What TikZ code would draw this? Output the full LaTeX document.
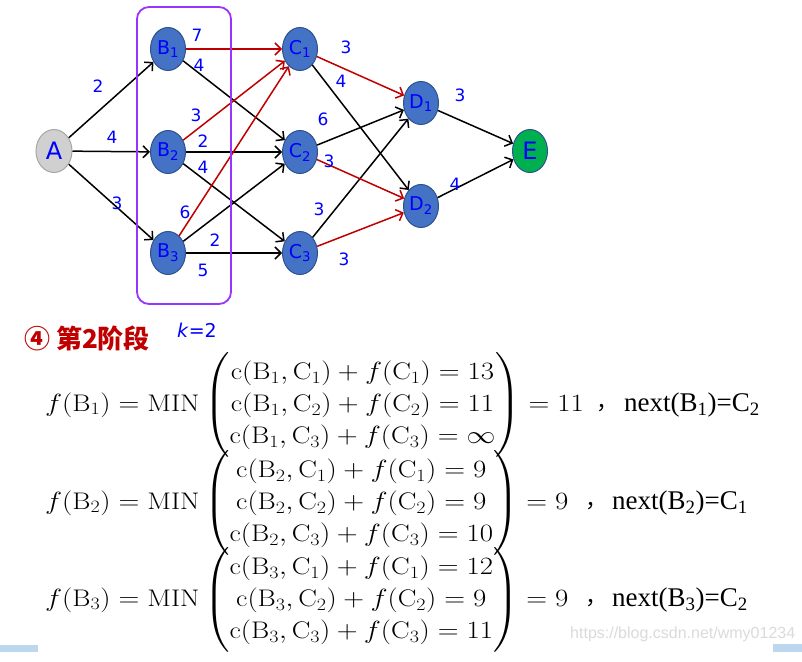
\documentclass[tikz,border=0pt]{standalone}
\usepackage{amsmath}
\usepackage{graphicx}
\usepackage{fontspec}
\usetikzlibrary{shapes.geometric,arrows.meta}
\newfontfamily\dv{DejaVu Sans}
\newfontfamily\cjk{Noto Sans CJK SC}
\newfontfamily\tnr{Liberation Serif}
\newfontfamily\lsans{Liberation Sans}
\definecolor{nodeblue}{HTML}{4472C4}
\definecolor{nodeedge}{HTML}{2F528F}
\definecolor{agray}{HTML}{D0D0D0}
\definecolor{agrayedge}{HTML}{A6A6A6}
\definecolor{egreen}{HTML}{00B050}
\definecolor{pathred}{HTML}{C00000}
\definecolor{boxpurple}{HTML}{9933FF}
\definecolor{lblblue}{HTML}{0000FF}
\definecolor{barblue}{HTML}{BDD7EE}
\definecolor{wmgray}{HTML}{DADADA}
\newcommand{\crow}[3]{\mathrm{c}(\mathrm{B}_{#1},\mathrm{C}_{#2})+f(\mathrm{C}_{#2})=#3}
\newcommand{\wideeq}[1]{\scalebox{1.16}[1]{\setlength{\arraycolsep}{0pt}$#1$}}
\tikzset{
  vert/.style={ellipse, draw=nodeedge, line width=1pt, fill=nodeblue, minimum width=35pt, minimum height=43pt, inner sep=0pt, text=lblblue, font=\dv\fontsize{19}{22}\selectfont},
  edge/.style={line width=1.5pt, -{Straight Barb[length=6pt,width=12pt]}},
  redge/.style={edge, draw=pathred},
  wt/.style={text=lblblue, font=\dv\fontsize{17}{19}\selectfont, inner sep=0pt},
  eqn/.style={anchor=west, inner sep=0pt, font=\fontsize{24}{32}\selectfont},
  cma/.style={anchor=west, inner sep=0pt, font=\cjk\fontsize{22}{24}\selectfont},
  nxt/.style={anchor=west, inner sep=0pt, font=\tnr\fontsize{27}{30}\selectfont}
}
\begin{document}
\begin{tikzpicture}[x=1pt,y=-1pt]
\useasboundingbox (0,0) rectangle (802,661);
% nodes
\node[vert, fill=agray, draw=agrayedge, font=\dv\fontsize{24}{26}\selectfont, minimum width=36pt] (A) at (54,151) {A};
\node[vert] (B1) at (168,49) {B\textsubscript{1}};
\node[vert] (B2) at (168,152) {B\textsubscript{2}};
\node[vert] (B3) at (168,253) {B\textsubscript{3}};
\node[vert] (C1) at (300,49) {C\textsubscript{1}};
\node[vert] (C2) at (300,152) {C\textsubscript{2}};
\node[vert] (C3) at (300,253) {C\textsubscript{3}};
\node[vert] (D1) at (421,103) {D\textsubscript{1}};
\node[vert] (D2) at (421,206) {D\textsubscript{2}};
\node[vert, fill=egreen, font=\dv\fontsize{24}{26}\selectfont] (E) at (530,151) {E};
% edges
\draw[edge] (A) -- (B1);
\draw[edge] (A) -- (B2);
\draw[edge] (A) -- (B3);
\draw[edge] (B1) -- (C2);
\draw[edge] (B2) -- (C2);
\draw[edge] (B2) -- (C3);
\draw[edge] (B3) -- (C2);
\draw[edge] (B3) -- (C3);
\draw[edge] (C1) -- (D2);
\draw[edge] (C2) -- (D1);
\draw[edge] (C3) -- (D1);
\draw[edge] (D1) -- (E);
\draw[edge] (D2) -- (E);
\draw[redge] (B1) -- (C1);
\draw[redge] (B2) -- (C1);
\draw[redge] (B3) -- (C1);
\draw[redge] (C1) -- (D1);
\draw[redge] (C2) -- (D2);
\draw[redge] (C3) -- (D2);
% stage box
\draw[boxpurple, line width=1.8pt, rounded corners=12pt] (137,7) rectangle (231,304);
% weights
\node[wt] (wAB1) at (98,86) {2};
\node[wt] (wAB2) at (112,137) {4};
\node[wt] (wAB3) at (117,203) {3};
\node[wt] (wB1C1) at (197,35) {7};
\node[wt] (wB1C2) at (199,65) {4};
\node[wt] (wB2C1) at (196,115) {3};
\node[wt] (wB2C2) at (203,141) {2};
\node[wt] (wB2C3) at (203,167) {4};
\node[wt] (wB3C1) at (185,212) {6};
\node[wt] (wB3C2) at (215,240) {2};
\node[wt] (wB3C3) at (203,270) {5};
\node[wt] (wC1D1) at (346,47) {3};
\node[wt] (wC1D2) at (341,81) {4};
\node[wt] (wC2D1) at (323,119) {6};
\node[wt] (wC2D2) at (329,161) {3};
\node[wt] (wC3D1) at (319,209) {3};
\node[wt] (wC3D2) at (344,259) {3};
\node[wt] (wD1E) at (460,95) {3};
\node[wt] (wD2E) at (455,184) {4};
% heading
\node[anchor=west, inner sep=0pt, text=pathred, font=\cjk\bfseries\fontsize{26}{28}\selectfont] (title) at (24,338) {④ 第2阶段};
\node[anchor=west, inner sep=0pt, text=lblblue, font=\dv\fontsize{19}{21}\selectfont] (kval) at (177,330) {\textit{k}=2};
% equations
\node[eqn] (eq1) at (45,405) {\wideeq{f(\mathrm{B}_1)=\mathrm{MIN}\left(\begin{array}{c}\crow{1}{1}{13}\\ \crow{1}{2}{11}\\ \crow{1}{3}{\infty}\end{array}\right)=11}};
\node[cma] (cm1) at (596,408) {，};
\node[nxt] (nx1) at (624,405) {next(B\textsubscript{1})=C\textsubscript{2}};
\node[eqn] (eq2) at (45,503) {\wideeq{f(\mathrm{B}_2)=\mathrm{MIN}\left(\begin{array}{c}\crow{2}{1}{9}\\ \crow{2}{2}{9}\\ \crow{2}{3}{10}\end{array}\right)=9}};
\node[cma] (cm2) at (585,506) {，};
\node[nxt] (nx2) at (612,503) {next(B\textsubscript{2})=C\textsubscript{1}};
\node[eqn] (eq3) at (45,600) {\wideeq{f(\mathrm{B}_3)=\mathrm{MIN}\left(\begin{array}{c}\crow{3}{1}{12}\\ \crow{3}{2}{9}\\ \crow{3}{3}{11}\end{array}\right)=9}};
\node[cma] (cm3) at (585,603) {，};
\node[nxt] (nx3) at (612,600) {next(B\textsubscript{3})=C\textsubscript{2}};
% footer
\node[anchor=west, inner sep=0pt, text=wmgray, font=\lsans\fontsize{16}{18}\selectfont] (wm) at (570,634) {https://blog.csdn.net/wmy01234};
\fill[barblue] (0,645) rectangle (38,652);
\fill[barblue] (773,644) rectangle (802,652);
\end{tikzpicture}
\end{document}
